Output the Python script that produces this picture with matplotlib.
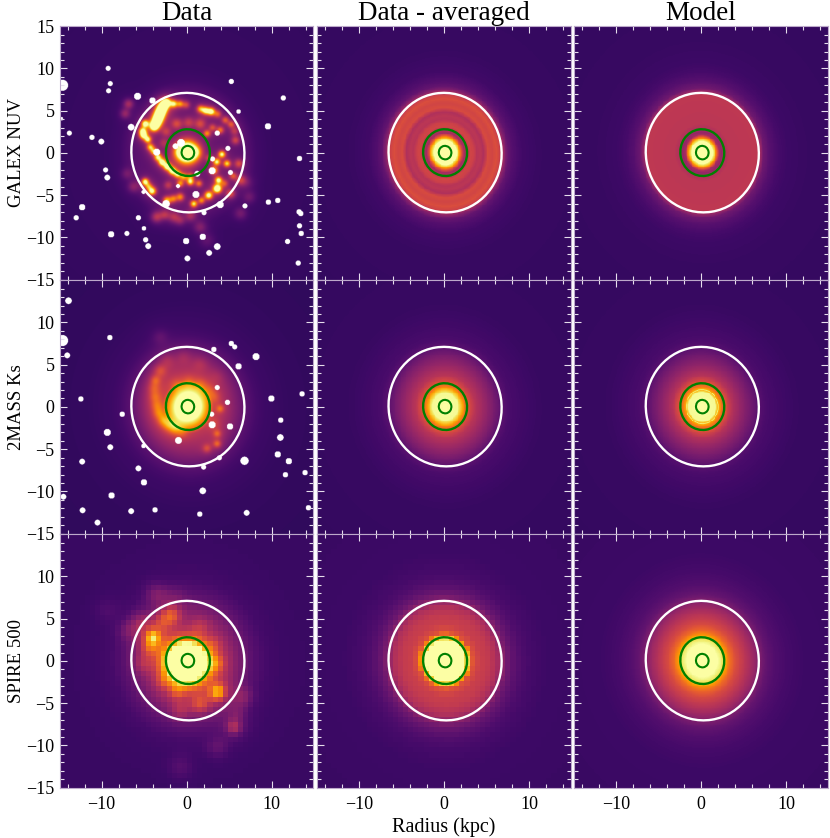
import numpy as np
import matplotlib
matplotlib.use("Agg")
import matplotlib.pyplot as plt
from matplotlib.patches import Ellipse
from matplotlib.ticker import MultipleLocator

plt.rcParams['font.family'] = ['Liberation Serif', 'DejaVu Serif']

titles = ['Data', 'Data - averaged', 'Model']
bands = ['GALEX NUV', '2MASS Ks', 'SPIRE 500']

# --- radial colour-scale profiles (elliptical radius in kpc -> normalised value)
nuv_avg_r = [0, 1.35, 1.65, 1.95, 2.2, 2.5, 2.9, 3.3, 3.7, 4.1, 4.5, 5.0, 5.5, 6.0, 6.4, 6.7, 7.0, 7.4, 8, 9, 11, 21]
nuv_avg_v = [1, 1, .82, .58, .44, .46, .56, .55, .49, .5, .47, .58, .56, .59, .55, .46, .36, .28, .24, .2, .18, .17]
nuv_mod_r = [0, 1.25, 1.5, 1.75, 2.0, 2.3, 2.7, 3.2, 6.5, 6.8, 7.2, 8, 9, 10, 12, 21]
nuv_mod_v = [1, 1, .85, .65, .44, .4, .47, .5, .51, .42, .31, .25, .21, .19, .18, .17]
nuv_dat_r = [0, 3, 5, 6.8, 8, 9.5, 21]
nuv_dat_v = [.28, .28, .27, .25, .2, .18, .17]

ks_avg_r = [0, 1.5, 1.9, 2.3, 2.7, 3.5, 4.5, 5.5, 6.5, 7.5, 9, 11, 21]
ks_avg_v = [1, .98, .85, .7, .6, .49, .42, .35, .27, .22, .2, .18, .17]
ks_mod_r = [0, 1.6, 1.8, 1.88, 1.98, 2.2, 2.6, 3.5, 4.5, 5.5, 6.5, 7.5, 9, 11, 21]
ks_mod_v = [1, .98, .85, .95, .8, .72, .62, .48, .4, .33, .26, .22, .2, .18, .17]
ks_dat_r = [0, 1.5, 1.9, 2.3, 2.7, 3, 4, 5, 6, 7, 8, 9, 12, 21]
ks_dat_v = [1, 1, .86, .72, .6, .5, .44, .39, .32, .25, .21, .19, .17, .16]

sp_avg_r = [0, 2.4, 2.8, 3.2, 4, 5, 6, 6.6, 7.2, 8, 9, 10, 12, 21]
sp_avg_v = [1, 1, .78, .6, .54, .52, .47, .4, .32, .27, .23, .21, .19, .18]
sp_mod_r = [0, 1.8, 2.4, 2.8, 3.3, 4, 5, 6, 6.8, 7.5, 8.5, 10, 12, 21]
sp_mod_v = [1, 1, .93, .78, .67, .58, .5, .42, .34, .28, .24, .21, .19, .18]
sp_dat_r = [0, 5, 6.5, 7.5, 9, 11, 15, 21]
sp_dat_v = [.4, .37, .31, .26, .21, .19, .18, .18]

# --- bright clumps in the data panels: x, y, amplitude, width (kpc)
nuv_clumps = [
    # bright upper-left arm
    (-2.4, 6.0, .7, .35), (-2.75, 5.6, .8, .38), (-3.0, 5.1, .8, .38), (-3.2, 4.6, .8, .38),
    (-3.4, 4.1, .8, .38), (-3.6, 3.6, .8, .38), (-3.85, 3.1, .8, .35),
    (-4.9, 3.45, .7, .3), (-5.2, 2.6, .6, .3), (-5.1, 2.1, .7, .3), (-4.6, 1.6, .6, .28),
    (-1.55, 5.8, .55, .3), (-.8, 5.8, .4, .28), (-.1, 5.7, .25, .3),
    # upper arc
    (1.6, 5.2, .45, .3), (2.2, 5.0, .6, .3), (2.85, 4.9, .7, .3), (3.6, 4.6, .3, .3),
    (4.5, 3.9, .3, .3), (5.2, 3.4, .3, .3), (5.6, 2.6, .2, .35), (5.7, 1.5, .25, .35),
    # inner spiral
    (-4.3, .7, .5, .28), (-3.9, .2, .5, .28), (-3.4, -.5, .6, .3), (-2.9, -1.1, .7, .3),
    (-2.3, -1.6, .7, .3), (-1.7, -2.1, .7, .3), (-1.1, -2.5, .55, .3), (-.4, -2.8, .4, .3),
    (.4, -2.8, .35, .3),
    # core
    (0, .1, .9, .95), (.05, .05, .5, .7), (1.0, .1, .25, .45), (-.8, .1, .2, .45),
    # right side
    (4.1, -.15, .65, .28), (4.7, -1.25, .55, .28), (3.5, -1.05, .6, .28), (3.7, -3.2, .65, .28),
    (3.55, -4.2, .9, .34), (2.55, -5.0, .7, .32), (.8, -6.0, .6, .28), (1.7, -5.6, .4, .28),
    (3.15, -2.05, .5, .32), (2.6, -.6, .2, .3), (5.4, -2.7, .3, .3), (4.4, -3.6, .25, .3),
    # lower-left
    (-4.9, -3.4, .7, .28), (-4.5, -3.95, .4, .28), (-4.1, -4.5, .7, .32), (-.8, -5.2, .4, .32),
    (-2.35, -5.6, .5, .32), (-1.6, -5.4, .35, .3), (-.8, -3.6, .4, .28), (.4, -3.4, .55, .28),
    (1.4, -3.6, .35, .28), (-2.2, -3.8, .2, .35),
    # faint arcs
    (-1.2, 3.45, .25, .45), (.2, 3.6, .2, .45), (1.55, 3.45, .25, .45), (3.9, 2.7, .35, .3),
    (3.0, 3.0, .25, .3), (2.35, 2.3, .4, .28), (-2.4, 2.5, .18, .4), (-2.7, 1.2, .15, .4),
    (6.1, -1.25, .28, .38), (6.3, -3.2, .25, .42), (5.1, -4.8, .3, .38),
    # outer faint features
    (-6.85, 5.8, .22, .4), (-7.25, 4.65, .18, .4), (-7.05, -2.45, .1, .45), (-6.3, -4.0, .14, .45),
    (-3.55, -7.55, .25, .45), (-2.6, -7.3, .2, .4), (-1.55, -7.55, .2, .45), (-.8, -7.95, .15, .4),
    (1.55, -8.75, .14, .5), (6.3, -7.15, .12, .5), (2.35, -10.3, .08, .6), (.4, -7.4, .18, .45),
    (7.3, -5.2, .1, .5), (7.0, -3.5, .08, .5),
]
ks_clumps = [
    (-3.7, 3.15, .16, .4), (-3.85, 2.2, .13, .45), (-3.75, 1.2, .14, .45), (-3.55, .2, .14, .45),
    (-3.3, -.7, .16, .45), (-2.75, -1.55, .2, .45), (-2.1, -2.1, .2, .45), (-1.4, -2.5, .2, .45),
    (-.6, -2.9, .12, .45), (-2.35, 5.5, .08, .6), (-3.15, 4.3, .14, .5), (-.4, 5.9, .06, .6),
    (1.55, 5.1, .06, .6), (3.5, 3.55, .04, .6), (-1.2, 2.6, .1, .5), (.2, 2.9, .1, .5),
    (1.55, 2.55, .12, .5), (2.5, 1.9, .1, .5), (3.15, 1.2, .1, .5), (3.9, -.2, .18, .3),
    (3.55, -3.15, .18, .3), (3.55, -4.35, .22, .3), (2.35, -4.9, .16, .35), (-3.15, 8.25, .06, .6),
    (3.2, -2.0, .08, .5),
]
sp_clumps = [
    (-.05, -.2, 1.5, 1.7), (-3.95, 2.85, .36, .6), (-1.95, 5.4, .26, .8), (-3.0, 4.5, .1, .7),
    (-4.3, 1.65, .16, .7), (-5.1, -.3, .1, .8), (-2.75, -2.4, .08, .6), (-1.2, -3.55, .12, .6),
    (3.55, -3.65, .36, .6), (1.55, -5.05, .2, .8), (3.4, -.3, .16, .7), (3.15, 2.05, .08, .7),
    (1.55, 4.0, .1, .8), (-.8, -5.8, .12, .8), (-5.5, 4.4, .12, .9), (5.5, -7.8, .2, .6),
    (6.6, -4.25, .12, .8), (-3.55, 7.95, .12, .9), (-1.5, 7.5, .06, .9), (-7.05, 3.6, .08, .8),
    (-.8, -12.5, .06, 1.0), (3.55, -10.15, .08, .9), (-9.45, 6.0, .04, 1.0), (5.9, -6.2, .08, .8),
]

# --- masked foreground stars: x, y, radius (kpc)
nuv_stars = [
    (-14.6, 8.0, .65), (-9.25, 10.0, .29), (-9.0, 8.2, .29), (-9.2, 7.35, .29), (-5.8, 6.7, .42),
    (-4.05, 6.2, .37), (-6.55, 3.05, .39), (-13.8, 2.35, .29), (-11.15, 1.85, .31), (-10.05, 1.35, .34),
    (-9.55, -2.0, .29), (-9.35, -2.9, .34), (-12.3, -6.4, .37), (-13.0, -7.65, .31), (-8.9, -9.6, .37),
    (-7.05, -9.5, .29), (-5.7, -7.65, .31), (-5.05, -8.9, .26), (-4.85, -10.25, .31), (-4.55, -11.0, .34),
    (-.1, -10.4, .37), (.05, -12.45, .34), (1.85, -9.9, .37), (2.6, -11.8, .34), (3.55, -11.05, .39),
    (3.9, -6.1, .42), (2.0, -7.05, .29), (1.05, -4.9, .42), (2.95, -2.1, .42), (5.1, -2.3, .29),
    (3.0, -.7, .29), (-3.55, .1, .42), (-.7, 1.2, .46), (-1.35, .8, .34), (3.55, 2.35, .31),
    (4.8, .55, .29), (6.05, 4.9, .26), (5.2, 8.45, .31), (11.3, 6.5, .31), (9.5, 3.15, .37),
    (13.2, -.65, .32), (9.55, -5.8, .32), (10.65, -5.6, .32), (6.8, -6.25, .29), (13.15, -6.95, .32),
    (13.35, -7.15, .32), (13.2, -8.6, .31), (13.4, -9.5, .32), (11.8, -10.45, .31), (13.05, -13.0, .31),
    (-2.45, -6.0, .44), (-1.05, -3.9, .24), (1.2, -2.45, .34), (-5.1, -4.6, .24), (-14.75, 4.05, .22),
    (14.8, -4.15, .17),
]
ks_stars = [
    (-13.9, 12.55, .39), (-14.6, 7.85, .65), (-14.05, 6.1, .34), (-9.05, 8.2, .32), (-12.45, .95, .32),
    (-7.6, -.85, .32), (-9.35, -3.0, .42), (-9.0, -4.75, .34), (-12.3, -6.45, .34), (-5.7, -7.25, .34),
    (-5.05, -8.9, .37), (-8.85, -10.45, .37), (-14.5, -10.6, .34), (-12.25, -12.2, .34), (-6.55, -12.3, .34),
    (-3.75, -12.15, .32), (-10.5, -13.65, .34), (1.5, -12.65, .32), (1.85, -9.9, .39), (7.0, -12.5, .34),
    (1.95, -7.1, .29), (3.8, -6.0, .29), (6.75, -6.35, .49), (-1.0, -3.95, .41), (-5.1, -4.6, .26),
    (2.95, -2.1, .42), (5.05, -2.3, .37), (2.9, -.85, .29), (4.75, .55, .31), (3.55, 2.3, .29),
    (6.05, 4.8, .37), (8.1, 5.95, .42), (5.2, 7.5, .32), (5.6, 7.1, .29), (3.15, 6.8, .32),
    (9.9, 1.0, .37), (13.5, 1.55, .32), (11.0, -1.55, .32), (10.95, -3.6, .39), (10.65, -5.6, .37),
    (11.95, -6.4, .37), (11.55, -8.0, .32), (13.85, -7.75, .32), (14.25, -11.9, .32),
]

# --- aperture ellipses: semi-axes (kpc)
center = (0.14, 0.04)
tilt_deg = 9
outer_ap = (6.64, 7.08)
mid_ap = (2.58, 2.77)
inner_ap = (0.74, 0.8)


def grid(step):
    e = np.arange(-15, 15 + step / 2, step)
    c = 0.5 * (e[:-1] + e[1:])
    return np.meshgrid(c, c)


def ell_r(X, Y):
    t = np.deg2rad(tilt_deg)
    dx, dy = X - center[0], Y - center[1]
    u = dx * np.cos(t) + dy * np.sin(t)
    w = -dx * np.sin(t) + dy * np.cos(t)
    return np.hypot(u, w * outer_ap[0] / outer_ap[1])


def profile_image(r, v, step):
    X, Y = grid(step)
    return np.interp(ell_r(X, Y), r, v)


def data_image(r, v, clumps, stars, step, halo=.3):
    X, Y = grid(step)
    im = np.interp(ell_r(X, Y), r, v)
    for x, y, a, s in clumps:
        d2 = (X - x) ** 2 + (Y - y) ** 2
        im = im + a * np.exp(-d2 / (2 * s ** 2)) + halo * a * np.exp(-d2 / (2 * (2.2 * s) ** 2)) * (s < .75)
    im = np.clip(im, 0, 1)
    for x, y, s in stars:
        im[(X - x) ** 2 + (Y - y) ** 2 < s ** 2] = np.nan
    return im


images = [
    [data_image(nuv_dat_r, nuv_dat_v, nuv_clumps, nuv_stars, .05, halo=.12),
     profile_image(nuv_avg_r, nuv_avg_v, .1), profile_image(nuv_mod_r, nuv_mod_v, .1)],
    [data_image(ks_dat_r, ks_dat_v, ks_clumps, ks_stars, .05, halo=.25),
     profile_image(ks_avg_r, ks_avg_v, .1), profile_image(ks_mod_r, ks_mod_v, .1)],
    [data_image(sp_dat_r, sp_dat_v, sp_clumps, [], .6, halo=.3),
     profile_image(sp_avg_r, sp_avg_v, .6), profile_image(sp_mod_r, sp_mod_v, .1)],
]

W, H = 830, 838
fig = plt.figure(figsize=(W / 100, H / 100), dpi=100)
cmap = plt.get_cmap('inferno').copy()
cmap.set_bad('white')
edge = '#bda9cb'
pw, ph = 253.4, 253.5
xs = [60.0, 317.2, 574.4]
ys = [26.2, 280.2, 534.2]

for i in range(3):
    for j in range(3):
        ax = fig.add_axes([xs[j] / W, 1 - (ys[i] + ph) / H, pw / W, ph / H])
        fine = images[i][j].shape[0] > 400
        ax.imshow(images[i][j], origin='lower', extent=[-15, 15, -15, 15], cmap=cmap,
                  vmin=0, vmax=1, interpolation='antialiased' if fine else 'nearest', aspect='auto')
        ax.set_xlim(-14.9, 14.9)
        ax.set_ylim(-15, 15)
        for (a, b), col, lw in [(outer_ap, 'white', 1.7), (mid_ap, 'green', 1.7), (inner_ap, 'green', 1.5)]:
            ax.add_patch(Ellipse(center, 2 * a, 2 * b, angle=tilt_deg, fill=False, ec=col, lw=lw))
        ax.xaxis.set_major_locator(MultipleLocator(10))
        ax.xaxis.set_minor_locator(MultipleLocator(2))
        ax.yaxis.set_major_locator(MultipleLocator(5))
        ax.yaxis.set_minor_locator(MultipleLocator(1))
        ax.tick_params(which='major', direction='in', length=5, width=.8, color='#e6deec',
                       top=True, right=True, labelsize=13, pad=4,
                       labelbottom=(i == 2), labelleft=(j == 0))
        ax.tick_params(axis='x', which='major', pad=6)
        ax.tick_params(which='minor', direction='in', length=3, width=.8, color='#e6deec',
                       top=True, right=True)
        for s in ax.spines.values():
            s.set_color(edge)
            s.set_linewidth(.8)
        if i == 0:
            ax.set_title(titles[j], fontsize=19.5, pad=2)
        if i > 0 and j == 0:
            ax.set_yticks([-15, -10, -5, 0, 5, 10])
        if j == 0:
            ax.set_ylabel(bands[i], fontsize=13.5)
            ax.yaxis.set_label_coords(-0.138, 0.5)
        if i == 2 and j == 1:
            ax.set_xlabel('Radius (kpc)', fontsize=14.5, labelpad=3)

fig.savefig('out.png', dpi=100, facecolor='white')
